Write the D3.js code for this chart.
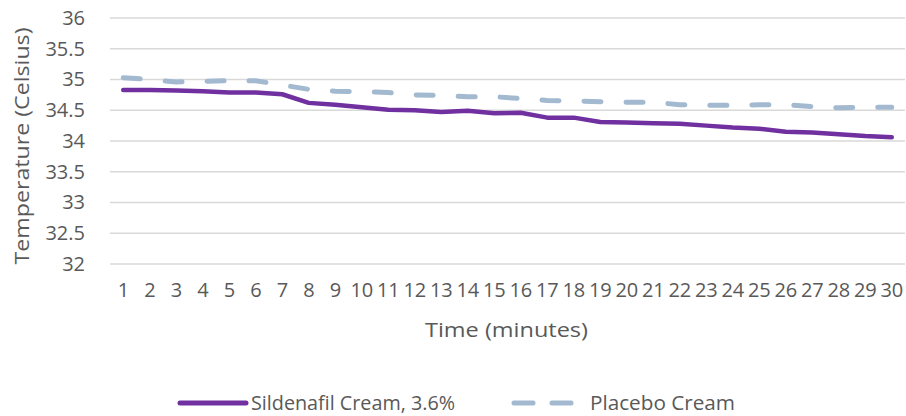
<!DOCTYPE html>
<html><head><meta charset="utf-8">
<script src="https://cdn.jsdelivr.net/npm/d3@7"></script>
<style>body{margin:0;background:#fff}svg{display:block}text{font-family:"Open Sans",sans-serif;fill:#595959}</style>
</head><body>
<svg id="c" width="906" height="416"></svg>
<script>
const minutes = d3.range(1, 31).map(String);
const sildenafil = [34.83,34.83,34.82,34.81,34.79,34.79,34.76,34.62,34.59,34.55,34.51,34.50,34.47,34.49,34.45,34.46,34.38,34.38,34.31,34.30,34.29,34.28,34.25,34.22,34.20,34.15,34.14,34.11,34.08,34.06];
const placebo = [35.03,35.00,34.96,34.97,34.98,34.98,34.91,34.84,34.81,34.80,34.79,34.75,34.74,34.72,34.72,34.69,34.66,34.65,34.64,34.63,34.63,34.59,34.58,34.58,34.59,34.59,34.56,34.54,34.55,34.55];
const yTicks = [32,32.5,33,33.5,34,34.5,35,35.5,36];
const seriesNames = ["Sildenafil Cream, 3.6%", "Placebo Cream"];

const svg = d3.select("#c");
const L = 110, R = 905, T = 18, B = 264;
const x = d3.scaleBand().domain(minutes).range([L, R]);
const y = d3.scaleLinear().domain([32, 36]).range([B, T]);
const cx = d => x(d) + x.bandwidth()/2;

// gridlines
svg.append("g").selectAll("line").data(yTicks).join("line")
  .attr("x1", L).attr("x2", R).attr("y1", d => y(d)).attr("y2", d => y(d))
  .attr("stroke", "#d9d9d9").attr("stroke-width", 1.5);

// y axis labels
const yAxis = svg.append("g").attr("transform", `translate(${L},0)`)
  .call(d3.axisLeft(y).tickValues(yTicks).tickSize(0).tickPadding(25).tickFormat(d3.format("")));
yAxis.select(".domain").remove();
yAxis.selectAll("text").style("font-size", "20px").attr("fill", "#595959");

// x axis labels
const xAxis = svg.append("g").attr("transform", `translate(0,${B})`)
  .call(d3.axisBottom(x).tickSize(0).tickPadding(19));
xAxis.select(".domain").remove();
xAxis.selectAll("text").style("font-size", "20px").attr("fill", "#595959").attr("letter-spacing", "-0.3px");

// titles
svg.append("text").attr("transform", "translate(22,146) rotate(-90)").attr("text-anchor", "middle")
  .attr("dy", "0.35em").style("font-size", "20px").text("Temperature (Celsius)")
  .attr("textLength", 237).attr("lengthAdjust", "spacingAndGlyphs");
svg.append("text").attr("x", 506.5).attr("y", 337).attr("text-anchor", "middle")
  .style("font-size", "20px").text("Time (minutes)")
  .attr("textLength", 163).attr("lengthAdjust", "spacingAndGlyphs");

const line = d3.line().x((d, i) => cx(minutes[i])).y(d => y(d));
svg.append("path").datum(placebo).attr("d", line).attr("fill", "none")
  .attr("stroke", "#a2b9d0").attr("stroke-width", 5).attr("stroke-linecap", "round")
  .attr("stroke-dasharray", "17,25");
svg.append("path").datum(sildenafil).attr("d", line).attr("fill", "none")
  .attr("stroke", "#7030a0").attr("stroke-width", 4.5).attr("stroke-linecap", "round").attr("stroke-linejoin", "round");

// legend
const ly = 403;
svg.append("line").attr("x1", 180).attr("x2", 246).attr("y1", ly).attr("y2", ly)
  .attr("stroke", "#7030a0").attr("stroke-width", 5).attr("stroke-linecap", "round");
svg.append("text").attr("x", 251).attr("y", ly).attr("dy", "0.35em").style("font-size", "20px")
  .text(seriesNames[0]).attr("textLength", 204).attr("lengthAdjust", "spacingAndGlyphs");
svg.append("line").attr("x1", 514).attr("x2", 572).attr("y1", ly).attr("y2", ly)
  .attr("stroke", "#a2b9d0").attr("stroke-width", 5).attr("stroke-linecap", "round")
  .attr("stroke-dasharray", "19,19");
svg.append("text").attr("x", 590).attr("y", ly).attr("dy", "0.35em").style("font-size", "20px")
  .text(seriesNames[1]).attr("textLength", 145).attr("lengthAdjust", "spacingAndGlyphs");
</script>
</body></html>
